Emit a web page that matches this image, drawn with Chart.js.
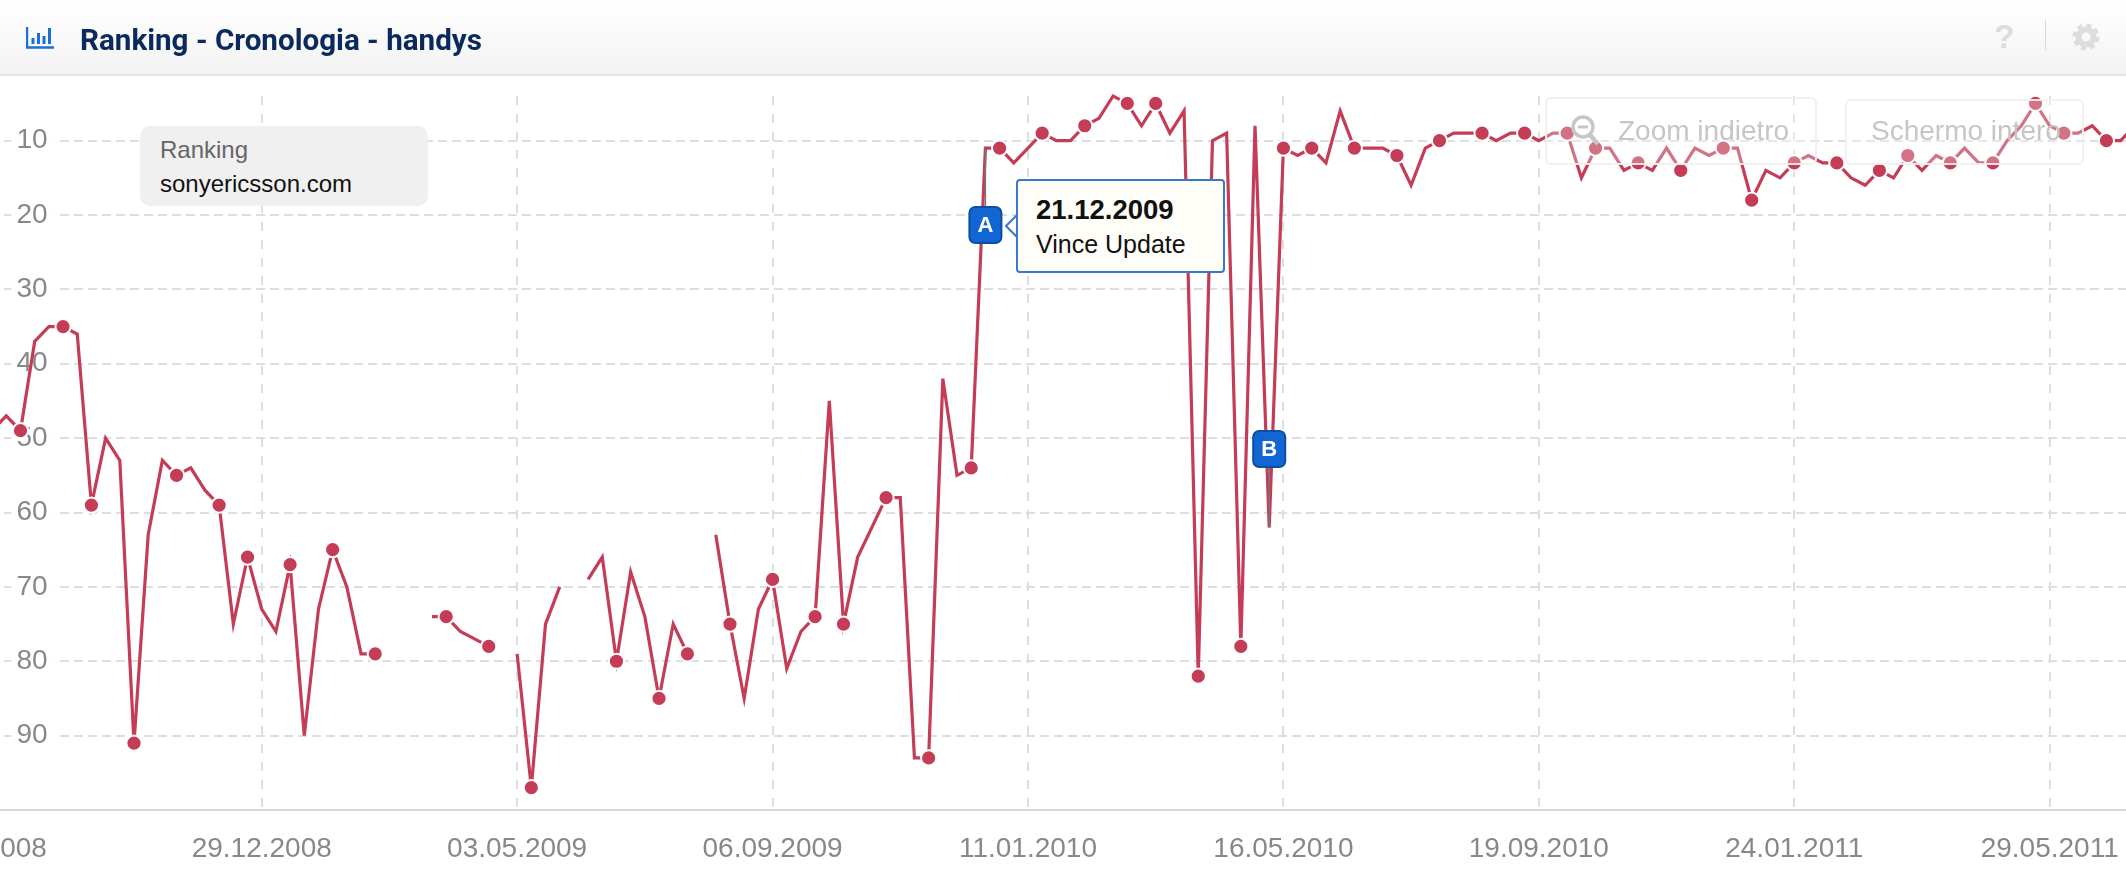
<!DOCTYPE html>
<html>
<head>
<meta charset="utf-8">
<title>Ranking - Cronologia - handys</title>
<script src="https://cdn.jsdelivr.net/npm/chart.js@4/dist/chart.umd.min.js"></script>
<style>
html, body { margin: 0; padding: 0; background: #fff; overflow: hidden; }
#page { position: relative; width: 2126px; height: 876px; overflow: hidden; font-family: "Liberation Sans", Arial, sans-serif; }
#chart { position: absolute; left: -164px; top: 0; }
#head { position: absolute; left: 0; top: 0; width: 2126px; height: 74px; border-bottom: 2px solid #e4e4e4; border-radius: 8px 8px 0 0; background: linear-gradient(#fff, #f3f3f3); }
#title { position: absolute; left: 80px; top: 23px; font: 700 29.6px Roboto, sans-serif; color: #0a2a5e; white-space: nowrap; }
#icon { position: absolute; left: 26px; top: 27px; }
#help { position: absolute; left: 1994px; top: 17px; font: bold 34px "Liberation Sans", sans-serif; color: #ddd; }
#sep { position: absolute; left: 2045px; top: 20px; width: 1px; height: 30px; background: #d8d8d8; }
#gear { position: absolute; left: 2072px; top: 23px; }
#legendbox { position: absolute; left: 140px; top: 126px; width: 288px; height: 80px; background: #f0f0f0; border-radius: 10px; font-size: 24px; }
#legendbox div { position: absolute; left: 20px; white-space: nowrap; }
.btn { position: absolute; background: rgba(255,255,255,0.28); border: 2px solid rgba(240,240,240,0.9); border-radius: 6px; box-sizing: border-box; color: #c6c6c6; font-size: 28px; white-space: nowrap; }
.btn span { position: absolute; top: 16px; }
#tip { position: absolute; left: 1016px; top: 179px; width: 209px; height: 94px; box-sizing: border-box; background: #fffdf8; border: 2px solid #3a78c8; border-radius: 4px; font-size: 25px; color: #111; }
#tip div { position: absolute; left: 18px; white-space: nowrap; }
#arrow { position: absolute; left: 1005px; top: 212px; }
</style>
</head>
<body>
<div id="page">
  <canvas id="chart" width="2313" height="876"></canvas>
  <div id="head">
    <svg id="icon" width="29" height="22" viewBox="0 0 29 22"><path d="M1 0V20.5H28" fill="none" stroke="#1a6fd8" stroke-width="2.4"/><path d="M7 11v6M12.5 6v11M18 9v8M23.5 1v16" stroke="#1a6fd8" stroke-width="3"/></svg>
    <div id="title">Ranking - Cronologia - handys</div>
    <div id="help">?</div>
    <div id="sep"></div>
    <svg id="gear" width="28" height="28" viewBox="0 0 28 28"><circle cx="14" cy="14" r="7.5" fill="none" stroke="#ddd" stroke-width="6"/><circle cx="14" cy="14" r="11.5" fill="none" stroke="#ddd" stroke-width="4" stroke-dasharray="5 4.03"/></svg>
  </div>
  <div id="legendbox">
    <div style="top:10px;color:#666">Ranking</div>
    <div style="top:44px;color:#111">sonyericsson.com</div>
  </div>
  <div class="btn" style="left:1545px;top:97px;width:272px;height:68px">
    <svg style="position:absolute;left:24px;top:16px" width="30" height="32" viewBox="0 0 30 32"><circle cx="12" cy="12" r="10" fill="none" stroke="#c6c6c6" stroke-width="3.4"/><path d="M7 12h10" stroke="#c6c6c6" stroke-width="3"/><path d="M19 20l8 9" stroke="#c6c6c6" stroke-width="4.4"/></svg>
    <span style="left:71px">Zoom indietro</span>
  </div>
  <div class="btn" style="left:1845px;top:99px;width:239px;height:66px">
    <span style="left:24px;top:14px">Schermo intero</span>
  </div>
  <svg id="arrow" width="14" height="28" viewBox="0 0 14 28"><path d="M13 2L1 14L13 26" fill="#fffdf8" stroke="#3a78c8" stroke-width="2"/></svg>
  <div id="tip">
    <div style="top:13px;font-weight:bold;font-size:27.5px">21.12.2009</div>
    <div style="top:49px">Vince Update</div>
  </div>
</div>
<script>
// weekly ranking, first week sits off the left edge of the picture
var rankPart1 = [null, null, null, null, null, null, null, null, null, null, null,
	49, 47, 49, 37, 35, 35, 36, 59, 50, 53, 91, 63, 53, 55, 54, 57, 59, 75, 66,
	73, 76, 67, 90, 73, 65, 70, 79, 79, null, null, null, 74, 74, 76, 77, 78, null];
var rankPart2 = [79, 97, 75, 70, null, 69, 66, 80, 68, 74, 85, 75, 79, null,
	63, 75, 85, 73, 69, 81, 76, 74, 45, 75, 66, 62, 58, 58, 93, 93, 42, 55, 54];
var rankPart3 = [11, 11, 13, 11, 9, 10, 10, 8, 7, 4, 5, 8, 5, 9, 6, 82, 10, 9, 78, 8, 62,
	11, 12, 11, 13, 6, 11, 11, 11, 12, 16, 11, 10, 9, 9, 9, 10, 9, 9, 10, 9, 9,
	15, 11, 11, 14, 13, 14, 11, 14, 11, 12, 11, 11, 18, 14, 15, 13, 12, 13, 13,
	15, 16, 14, 15, 12, 14, 12, 13, 11, 13, 13, 10, 8, 5, 8, 9, 9, 8, 10, 10, 8, null];
var ranks = rankPart1.concat(rankPart2, rankPart3);

var weeks = ranks.map(function (v, i) { return String(i); });

// weeks that carry a dot
var dotWeeks = [13, 16, 18, 21, 24, 27, 29, 32, 35, 38, 43, 46, 49, 55, 58, 60, 63, 66, 69, 71, 74, 77, 80,
	82, 85, 88, 91, 93, 96, 99, 102, 104, 107, 110, 113, 116, 119, 122, 124, 127, 130, 133, 135, 138, 141,
	144, 146, 149, 152, 155, 157, 160];

var tickWeeks = [10, 30, 48, 66, 84, 102, 120, 138, 156];
var tickDates = ["11.08.2008", "29.12.2008", "03.05.2009", "06.09.2009", "11.01.2010", "16.05.2010", "19.09.2010", "24.01.2011", "29.05.2011"];
var rankTicks = [10, 20, 30, 40, 50, 60, 70, 80, 90];

var flagWeeks = [81, 101];
var flagNames = ["A", "B"];

var lineColor = "#c43c56";
var gridColor = "#dedede";

// flags on the line, the box stays at its own height
var flagsPlugin = {
	id: "flags",
	afterDatasetsDraw: function (chart) {
		var ctx = chart.ctx;
		var tops = [207, 431];
		flagWeeks.forEach(function (w, i) {
			var x = chart.scales.x.getPixelForValue(w);
			var y = chart.scales.y.getPixelForValue(ranks[w]);
			ctx.save();
			ctx.strokeStyle = "#777";
			ctx.lineWidth = 1.5;
			ctx.beginPath();
			ctx.moveTo(x, y);
			ctx.lineTo(x, tops[i] + 18);
			ctx.stroke();
			ctx.fillStyle = "#1266d4";
			ctx.strokeStyle = "#0b4f9e";
			ctx.lineWidth = 2;
			ctx.beginPath();
			ctx.roundRect(x - 16, tops[i], 32, 36, 6);
			ctx.fill();
			ctx.stroke();
			ctx.fillStyle = "#fff";
			ctx.font = "bold 22px 'Liberation Sans'";
			ctx.textAlign = "center";
			ctx.textBaseline = "middle";
			ctx.fillText(flagNames[i], x, tops[i] + 19);
			ctx.restore();
		});
	}
};

// the mirrored labels and the off-screen first tick must not push the plot area in
function noScalePadding(scale) {
	scale.paddingLeft = 0;
	scale.paddingRight = 0;
	scale.paddingTop = 0;
	scale.paddingBottom = 0;
}

var ctx = document.getElementById("chart");

var chart = new Chart(ctx, {
	type: "line",
	data: {
		labels: weeks,
		datasets: [{
			label: "Ranking",
			data: ranks,
			borderColor: lineColor,
			backgroundColor: lineColor,
			borderWidth: 3.2,
			borderJoinStyle: "miter",
			tension: 0,
			fill: false,
			spanGaps: false,
			clip: false,
			pointBackgroundColor: lineColor,
			pointBorderColor: "#fff",
			pointBorderWidth: 2,
			pointRadius: weeks.map(function (w, i) { return dotWeeks.indexOf(i) >= 0 ? 7.6 : 0; })
		}]
	},
	plugins: [flagsPlugin],
	options: {
		responsive: false,
		animation: false,
		events: [],
		layout: { padding: { top: 96, left: 0, right: 0, bottom: 0 } },
		plugins: { legend: { display: false }, tooltip: { enabled: false }, title: { display: false } },
		scales: {
			x: {
				type: "category",
				offset: false,
				grid: { color: gridColor, lineWidth: 2, drawTicks: false },
				border: { display: true, color: "#d8d8d8", width: 2, dash: [9, 9] },
				ticks: {
					autoSkip: false,
					maxRotation: 0,
					minRotation: 0,
					padding: 22,
					color: "#888",
					font: { family: "Liberation Sans", size: 28 },
					callback: function (value) {
						return tickDates[tickWeeks.indexOf(value)];
					}
				},
				afterBuildTicks: function (scale) {
					scale.ticks = tickWeeks.map(function (w) { return { value: w }; });
				},
				afterFit: function (scale) {
					noScalePadding(scale);
					scale.height = 66;
				}
			},
			y: {
				type: "linear",
				reverse: true,
				min: 4,
				max: 100,
				grid: { color: gridColor, lineWidth: 2, drawTicks: false },
				border: { display: false, dash: [9, 5] },
				ticks: {
					mirror: true,
					crossAlign: "far",
					padding: 180.5,
					color: "#888",
					font: { family: "Liberation Sans", size: 28 },
					showLabelBackdrop: true,
					backdropColor: "#fff",
					backdropPadding: { top: 0, bottom: 0, left: 5, right: 7 }
				},
				afterBuildTicks: function (scale) {
					scale.ticks = rankTicks.map(function (v) { return { value: v }; });
				},
				afterFit: function (scale) {
					noScalePadding(scale);
					scale.width = 0;
				}
			}
		}
	}
});
</script>
</body>
</html>
